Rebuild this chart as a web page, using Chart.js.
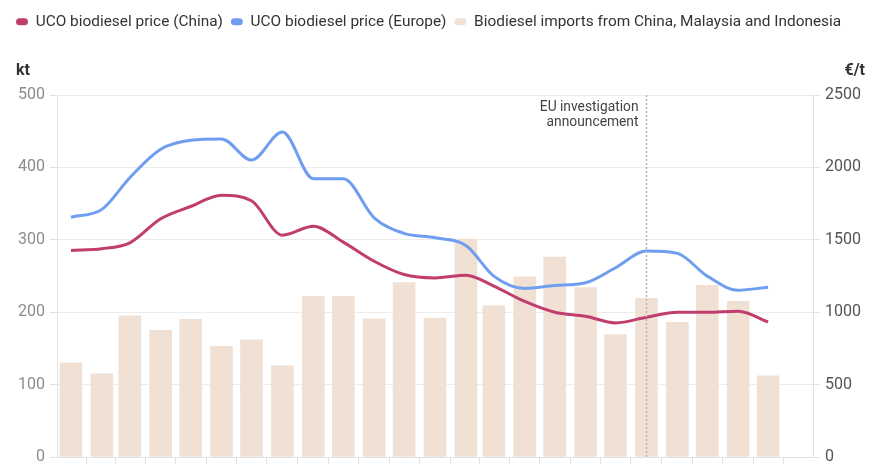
<!DOCTYPE html>
<html>
<head>
<meta charset="utf-8">
<script src="https://cdn.jsdelivr.net/npm/chart.js@4.4.1/dist/chart.umd.min.js"></script>
<style>
  html, body { margin: 0; padding: 0; background: #fff; }
</style>
</head>
<body>
<canvas id="canvas" width="880" height="466"></canvas>
<script>
// monthly points (first of month)
var months = [
  '2022-01-01', '2022-02-01', '2022-03-01', '2022-04-01', '2022-05-01', '2022-06-01',
  '2022-07-01', '2022-08-01', '2022-09-01', '2022-10-01', '2022-11-01', '2022-12-01',
  '2023-01-01', '2023-02-01', '2023-03-01', '2023-04-01', '2023-05-01', '2023-06-01',
  '2023-07-01', '2023-08-01', '2023-09-01', '2023-10-01', '2023-11-01', '2023-12-01'
];

// kt, left axis
var importsKt = [130, 115, 195, 175, 190, 153, 162, 126, 222, 222, 191, 241,
                 192, 301, 209, 249, 276, 234, 169, 219, 186, 237, 215, 112];

// €/t, right axis
var priceChina = [1426, 1438, 1479, 1645, 1730, 1808, 1770, 1532, 1594, 1484, 1352, 1260,
                  1237, 1256, 1180, 1074, 1000, 972, 926, 965, 1000, 1000, 1007, 933];
var priceEurope = [1656, 1710, 1929, 2125, 2187, 2196, 2051, 2244, 1922, 1922, 1652, 1544,
                   1514, 1461, 1249, 1164, 1184, 1203, 1307, 1422, 1406, 1249, 1152, 1173];

var leftTicks = [0, 100, 200, 300, 400, 500];
var rightTicks = [0, 500, 1000, 1500, 2000, 2500];

var eventDate = '2023-08-01';
var eventLabel = ['EU investigation', 'announcement'];

var t0 = Date.parse(months[0]);
function toDay(d) { return (Date.parse(d) - t0) / 864e5; }
var days = months.map(toDay);
function pts(vals) { return vals.map(function(v, i) { return {x: days[i], y: v}; }); }

Chart.defaults.font.family = 'Roboto, "Open Sans", sans-serif';
Chart.defaults.color = '#333';

var extraLabels = {
  id: 'extraLabels',
  afterDatasetsDraw: function(chart) {
    var ctx = chart.ctx, area = chart.chartArea;
    var x = Math.round(chart.scales.x.getPixelForValue(toDay(eventDate))) + 0.5;
    ctx.save();
    ctx.strokeStyle = '#b5b5b5';
    ctx.lineWidth = 1.5;
    ctx.setLineDash([2, 2]);
    ctx.beginPath();
    ctx.moveTo(x, area.top);
    ctx.lineTo(x, area.bottom);
    ctx.stroke();
    ctx.setLineDash([]);
    ctx.fillStyle = '#444';
    ctx.font = '13.8px Roboto, sans-serif';
    ctx.textAlign = 'right';
    ctx.textBaseline = 'middle';
    ctx.fillText(eventLabel[0], x - 8, area.top + 13);
    ctx.fillText(eventLabel[1], x - 8, area.top + 28);
    ctx.restore();
  },
  afterDraw: function(chart) {
    var ctx = chart.ctx;
    ctx.save();
    ctx.fillStyle = '#333';
    ctx.font = 'bold 16px Roboto, sans-serif';
    ctx.textBaseline = 'alphabetic';
    ctx.textAlign = 'left';
    ctx.fillText('kt', 16, 75);
    ctx.textAlign = 'right';
    ctx.fillText('€/t', 865, 75);
    ctx.restore();
  }
};

// keep tick label overflow from shrinking the plot
function noPad(s) { s.paddingTop = 0; s.paddingBottom = 0; }

var ctx = document.getElementById('canvas');
window.myChart = new Chart(ctx, {
  type: 'bar',
  data: {
    datasets: [{
      type: 'line',
      label: 'UCO biodiesel price (China)',
      data: pts(priceChina),
      yAxisID: 'y1',
      borderColor: '#c13d6e',
      backgroundColor: '#c13d6e',
      borderWidth: 3,
      pointRadius: 0,
      cubicInterpolationMode: 'monotone'
    }, {
      type: 'line',
      label: 'UCO biodiesel price (Europe)',
      data: pts(priceEurope),
      yAxisID: 'y1',
      borderColor: '#6f9ef1',
      backgroundColor: '#6f9ef1',
      borderWidth: 3,
      pointRadius: 0,
      cubicInterpolationMode: 'monotone'
    }, {
      type: 'bar',
      label: 'Biodiesel imports from China, Malaysia and Indonesia',
      data: pts(importsKt),
      yAxisID: 'y',
      backgroundColor: '#f1e1d5',
      borderWidth: 0,
      barThickness: 22
    }]
  },
  options: {
    responsive: false,
    animation: false,
    devicePixelRatio: 1,
    layout: { padding: { left: 8, top: 6, right: 0, bottom: 2 } },
    plugins: {
      tooltip: { enabled: false },
      legend: {
        position: 'top',
        align: 'start',
        labels: {
          font: { size: 15.4 },
          color: '#333',
          boxWidth: 12,
          boxHeight: 7,
          useBorderRadius: true,
          borderRadius: 3.5,
          padding: 8,
          generateLabels: function(chart) {
            var items = Chart.defaults.plugins.legend.labels.generateLabels(chart);
            items.forEach(function(it) { it.lineWidth = 0; it.strokeStyle = it.fillStyle; });
            return items;
          }
        }
      },
      // empty title used only as a spacer under the legend
      title: {
        display: true,
        text: '',
        weight: 1,
        font: { size: 10, lineHeight: 1 },
        padding: { top: 23, bottom: 22.6 }
      }
    },
    scales: {
      x: {
        type: 'linear',
        min: -14,
        max: 744,
        offset: false,
        afterBuildTicks: function(s) { s.ticks = days.map(function(d) { return {value: d}; }); },
        ticks: { display: false },
        grid: { drawOnChartArea: false, drawTicks: true, tickLength: 7, color: '#e2e2e2' },
        border: { color: '#e2e2e2' }
      },
      y: {
        position: 'left',
        min: 0,
        max: 500,
        afterBuildTicks: function(s) { s.ticks = leftTicks.map(function(v) { return {value: v}; }); },
        afterFit: function(s) { s.width = 49; noPad(s); },
        ticks: { font: { size: 16 }, color: '#8c8c8c', padding: 5 },
        grid: { color: '#ececec', tickLength: 7, tickColor: '#e2e2e2' },
        border: { color: '#e2e2e2' }
      },
      y1: {
        position: 'right',
        min: 0,
        max: 2500,
        afterBuildTicks: function(s) { s.ticks = rightTicks.map(function(v) { return {value: v}; }); },
        afterFit: function(s) { s.width = 67; noPad(s); },
        ticks: {
          font: { size: 16 }, color: '#555', padding: 5,
          callback: function(v) { return String(v); }
        },
        grid: { drawOnChartArea: false, tickLength: 7, color: '#e2e2e2' },
        border: { color: '#e2e2e2' }
      }
    }
  },
  plugins: [extraLabels]
});
</script>
</body>
</html>
